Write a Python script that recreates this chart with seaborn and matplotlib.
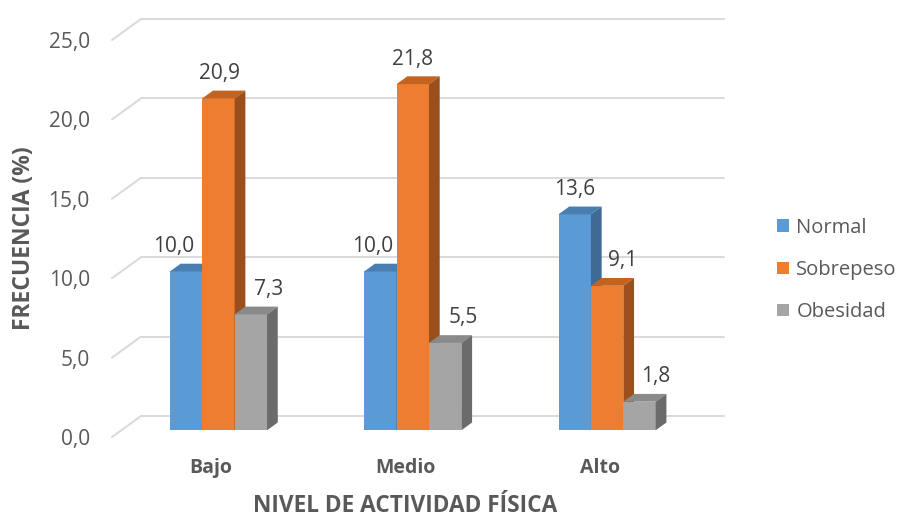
import pandas as pd
import seaborn as sns
import matplotlib.pyplot as plt
from matplotlib.patches import Polygon, Patch
from matplotlib import transforms

# data
niveles = ["Bajo", "Medio", "Alto"]
grupos = ["Normal", "Sobrepeso", "Obesidad"]
normal = [10.0, 10.0, 13.6]
sobrepeso = [20.9, 21.8, 9.1]
obesidad = [7.3, 5.5, 1.8]

colores = ["#5B9BD5", "#ED7D31", "#A5A5A5"]
techos = ["#4A7DB0", "#C4631F", "#8A8A8A"]
lados = ["#3E6A94", "#9B4F1C", "#6B6B6B"]
# horizontal nudges (pixels) of the value labels, per series / category
label_shift = [[-12, -8, 0], [1, 0, 16], [18, 18, 16]]

# depth of the 3D box in pixels and where the bars sit in it
DX, DY = 29, 21
D_FRONT, D_BACK = 0.32, 0.69

df = pd.DataFrame({
    "nivel": niveles * 3,
    "grupo": [g for g in grupos for _ in niveles],
    "freq": normal + sobrepeso + obesidad,
})

sns.set_style("white")
plt.rcParams["font.family"] = ["Open Sans", "DejaVu Sans"]

fig = plt.figure(figsize=(9.01, 5.17), dpi=100)
ax = fig.add_axes([112 / 901, 1 - 437 / 517, 583 / 901, 397 / 517])

sns.barplot(data=df, x="nivel", y="freq", hue="grupo", order=niveles,
            hue_order=grupos, palette=colores, width=0.5, saturation=1,
            linewidth=0, legend=False, ax=ax)

ax.set_xlim(-0.5, 2.5)
ax.set_ylim(0, 25)
for s in ax.spines.values():
    s.set_visible(False)
ax.grid(False)


def px(x, y, d):
    """data point pushed back to depth d, returned in data coords"""
    X, Y = ax.transData.transform((x, y))
    return ax.transData.inverted().transform((X + DX * d, Y + DY * d))


# back wall gridlines plus the left floor/wall diagonals
for v in range(0, 26, 5):
    a = px(-0.5, v, 1)
    b = px(2.5, v, 1)
    ax.plot([a[0], b[0]], [a[1], b[1]], color="#D9D9D9", lw=1.4,
            zorder=1, clip_on=False)
    ax.plot([-0.5, a[0]], [v, a[1]], color="#D9D9D9", lw=1.4,
            zorder=1, clip_on=False)

# turn the flat bars into boxes
rgb = [tuple(round(t, 3) for t in plt.matplotlib.colors.to_rgb(c)) for c in colores]
bars = sorted(ax.patches, key=lambda p: p.get_x())
for i, p in enumerate(bars):
    k = rgb.index(tuple(round(t, 3) for t in p.get_facecolor()[:3]))
    x0, w, h = p.get_x(), p.get_width(), p.get_height()
    x1 = x0 + w
    z = 2 + i * 0.01
    p.set_visible(False)
    front = [px(x0, 0, D_FRONT), px(x1, 0, D_FRONT),
             px(x1, h, D_FRONT), px(x0, h, D_FRONT)]
    top = [px(x0, h, D_FRONT), px(x1, h, D_FRONT),
           px(x1, h, D_BACK), px(x0, h, D_BACK)]
    side = [px(x1, 0, D_FRONT), px(x1, 0, D_BACK),
            px(x1, h, D_BACK), px(x1, h, D_FRONT)]
    ax.add_patch(Polygon(front, closed=True, fc=colores[k], ec="none",
                         zorder=z, clip_on=False))
    ax.add_patch(Polygon(top, closed=True, fc=techos[k], ec="none",
                         zorder=z, clip_on=False))
    ax.add_patch(Polygon(side, closed=True, fc=lados[k], ec="none",
                         zorder=z, clip_on=False))
    j = int(round(x0 + w / 2))
    ax.annotate(f"{h:.1f}".replace(".", ","), xy=(x0 + w / 2, h),
                xytext=(DX * D_FRONT + label_shift[k][j], DY * D_FRONT + 25),
                textcoords="offset pixels", ha="center", va="center",
                fontsize=15, color="#404040", zorder=10)

ax.set_yticks(range(0, 26, 5))
ax.set_yticklabels([f"{v:.1f}".replace(".", ",") for v in range(0, 26, 5)],
                   fontsize=15, color="#595959")
ax.set_xticks(range(len(niveles)))
ax.set_xticklabels(niveles, fontsize=14, fontweight="bold", color="#595959")
ax.tick_params(axis="y", length=0, pad=16)
ax.tick_params(axis="x", length=0, pad=15)
shift = transforms.ScaledTranslation(0.02, 0, fig.dpi_scale_trans)
for lab in ax.get_xticklabels():
    lab.set_transform(lab.get_transform() + shift)
ax.set_xlabel("")
ax.set_ylabel("")

fig.text(24 / 901, 1 - 238 / 517, "FRECUENCIA (%)", rotation=90,
         ha="center", va="center", fontsize=16.5, fontweight="bold",
         color="#595959")
fig.text(405 / 901, 1 - 506 / 517, "NIVEL DE ACTIVIDAD FÍSICA",
         ha="center", va="center", fontsize=16.3, fontweight="bold",
         color="#595959")

handles = [Patch(facecolor=c, edgecolor="none") for c in colores]
leg = fig.legend(handles, grupos, loc="center left",
                 bbox_to_anchor=(759 / 901, 1 - 270 / 517), frameon=False,
                 fontsize=14.5, handlelength=0.6, handleheight=0.6,
                 handletextpad=0.35, labelspacing=1.1)
for t in leg.get_texts():
    t.set_color("#595959")

fig.savefig("out.png", dpi=100)
